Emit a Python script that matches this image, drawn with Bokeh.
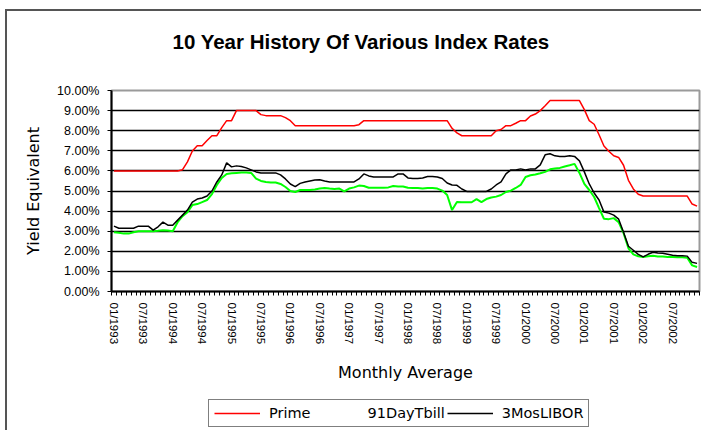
import math
from bokeh.plotting import figure
from bokeh.layouts import column
from bokeh.models import FixedTicker, Legend, LegendItem, ColumnDataSource, Label
from bokeh.embed import file_html
from bokeh.resources import INLINE

# ---------------- data (monthly averages, %) ----------------
months = [f"{m:02d}/{y}" for y in range(1993, 2003) for m in range(1, 13)]

prime = [
    6.00, 6.00, 6.00, 6.00, 6.00, 6.00, 6.00, 6.00, 6.00, 6.00, 6.00, 6.00,   # 1993
    6.00, 6.00, 6.06, 6.45, 6.99, 7.25, 7.25, 7.51, 7.75, 7.75, 8.15, 8.50,   # 1994
    8.50, 9.00, 9.00, 9.00, 9.00, 9.00, 8.80, 8.75, 8.75, 8.75, 8.75, 8.65,   # 1995
    8.50, 8.25, 8.25, 8.25, 8.25, 8.25, 8.25, 8.25, 8.25, 8.25, 8.25, 8.25,   # 1996
    8.25, 8.25, 8.30, 8.50, 8.50, 8.50, 8.50, 8.50, 8.50, 8.50, 8.50, 8.50,   # 1997
    8.50, 8.50, 8.50, 8.50, 8.50, 8.50, 8.50, 8.50, 8.50, 8.12, 7.89, 7.75,   # 1998
    7.75, 7.75, 7.75, 7.75, 7.75, 7.75, 8.00, 8.06, 8.25, 8.25, 8.37, 8.50,   # 1999
    8.50, 8.73, 8.83, 9.00, 9.24, 9.50, 9.50, 9.50, 9.50, 9.50, 9.50, 9.50,   # 2000
    9.05, 8.50, 8.32, 7.80, 7.24, 6.98, 6.75, 6.67, 6.28, 5.53, 5.10, 4.84,   # 2001
    4.75, 4.75, 4.75, 4.75, 4.75, 4.75, 4.75, 4.75, 4.75, 4.75, 4.35, 4.25,   # 2002
]

tbill = [
    2.95, 2.92, 2.88, 2.88, 2.95, 3.00, 3.00, 3.00, 3.00, 3.02, 3.05, 3.03,   # 1993
    3.00, 3.45, 3.75, 3.95, 4.30, 4.35, 4.45, 4.55, 4.85, 5.30, 5.65, 5.85,   # 1994
    5.88, 5.90, 5.92, 5.92, 5.90, 5.62, 5.50, 5.45, 5.42, 5.42, 5.35, 5.20,   # 1995
    5.00, 4.95, 5.05, 5.05, 5.05, 5.08, 5.12, 5.15, 5.12, 5.10, 5.12, 4.98,   # 1996
    5.12, 5.18, 5.27, 5.25, 5.16, 5.16, 5.16, 5.16, 5.18, 5.25, 5.22, 5.22,   # 1997
    5.16, 5.15, 5.15, 5.12, 5.15, 5.15, 5.12, 5.02, 4.80, 4.05, 4.45, 4.44,   # 1998
    4.44, 4.44, 4.60, 4.45, 4.60, 4.68, 4.72, 4.80, 4.95, 5.02, 5.15, 5.30,   # 1999
    5.70, 5.78, 5.82, 5.88, 5.95, 6.08, 6.12, 6.15, 6.22, 6.28, 6.35, 5.90,   # 2000
    5.35, 5.05, 4.70, 4.15, 3.62, 3.60, 3.65, 3.45, 2.90, 2.15, 1.85, 1.75,   # 2001
    1.72, 1.75, 1.78, 1.74, 1.74, 1.72, 1.72, 1.70, 1.70, 1.68, 1.30, 1.22,   # 2002
]

libor = [
    3.25, 3.15, 3.15, 3.15, 3.15, 3.25, 3.25, 3.25, 3.05, 3.22, 3.45, 3.30,   # 1993
    3.30, 3.55, 3.80, 4.05, 4.45, 4.60, 4.65, 4.75, 5.00, 5.45, 5.80, 6.40,   # 1994
    6.20, 6.25, 6.22, 6.15, 6.05, 5.95, 5.90, 5.90, 5.90, 5.90, 5.80, 5.60,   # 1995
    5.35, 5.22, 5.38, 5.45, 5.50, 5.55, 5.56, 5.50, 5.45, 5.45, 5.45, 5.45,   # 1996
    5.45, 5.45, 5.60, 5.85, 5.75, 5.70, 5.70, 5.70, 5.70, 5.70, 5.85, 5.85,   # 1997
    5.65, 5.62, 5.62, 5.65, 5.72, 5.72, 5.70, 5.62, 5.40, 5.30, 5.28, 5.10,   # 1998
    4.98, 4.98, 4.98, 4.98, 4.98, 5.10, 5.30, 5.45, 5.85, 6.05, 6.05, 6.10,   # 1999
    6.05, 6.10, 6.10, 6.30, 6.80, 6.85, 6.75, 6.72, 6.72, 6.75, 6.72, 6.50,   # 2000
    5.95, 5.35, 4.90, 4.55, 3.95, 3.90, 3.80, 3.60, 2.95, 2.25, 2.05, 1.85,   # 2001
    1.72, 1.85, 1.95, 1.92, 1.90, 1.85, 1.80, 1.78, 1.78, 1.76, 1.45, 1.40,   # 2002
]

series_names = ["Prime", "91DayTbill", "3MosLIBOR"]
x_tick_labels = months[::6]
y_tick_values = list(range(0, 11))
y_tick_labels = [f"{v:.2f}%" for v in y_tick_values]

title_text = "10 Year History Of Various Index Rates"
x_title = "Monthly Average"
y_title = "Yield Equivalent"

W = 694
H_TITLE = 60
H_MAIN = 323
H_LEG = 36


def strip(height):
    f = figure(width=W, height=height, output_backend="svg", toolbar_location=None,
               x_range=(0, 1), y_range=(0, 1), min_border=0,
               x_axis_location=None, y_axis_location=None)
    f.outline_line_color = None
    f.xgrid.visible = False
    f.ygrid.visible = False
    return f


# ---------------- title strip ----------------
pt = strip(H_TITLE)
pt.add_layout(Label(x=61, y=30, x_units="screen", y_units="screen", text=title_text,
                    text_font="Liberation Sans", text_font_style="bold",
                    text_font_size="20.5px", text_color="#000000",
                    text_align="left", text_baseline="alphabetic"))

# ---------------- main chart ----------------
idx = list(range(len(months)))
src = ColumnDataSource(dict(x=idx, month=months, prime=prime, tbill=tbill, libor=libor))

p = figure(width=W, height=H_MAIN, output_backend="svg", toolbar_location=None,
           x_range=(-0.5, len(months) - 0.5), y_range=(0, 10),
           min_border_left=104, min_border_right=2, min_border_top=19,
           min_border_bottom=H_MAIN - 19 - 201)

p.outline_line_color = "#9a9a9a"
p.outline_line_width = 2

p.xgrid.grid_line_color = None
p.ygrid.grid_line_color = "#000000"
p.ygrid.grid_line_width = 1.5
p.ygrid.ticker = FixedTicker(ticks=y_tick_values)

xa = p.xaxis[0]
xa.ticker = FixedTicker(ticks=idx[::6], minor_ticks=[i - 0.5 for i in range(len(months) + 1)])
xa.major_label_overrides = {i: lab for i, lab in zip(idx[::6], x_tick_labels)}
xa.major_label_orientation = -math.pi / 2
xa.major_tick_line_color = None
xa.major_tick_out = 4
xa.minor_tick_out = 4
xa.minor_tick_in = 0
xa.minor_tick_line_color = "#000000"
xa.minor_tick_line_width = 1
xa.axis_line_color = "#000000"
xa.axis_line_width = 2
xa.major_label_text_font = "Liberation Sans"
xa.major_label_text_font_size = "11.5px"
xa.major_label_text_color = "#000000"
xa.major_label_standoff = 7
xa.axis_label = x_title
xa.axis_label_text_font = "DejaVu Sans"
xa.axis_label_text_font_size = "16px"
xa.axis_label_text_font_style = "normal"
xa.axis_label_text_color = "#000000"
xa.axis_label_standoff = 16

ya = p.yaxis[0]
ya.ticker = FixedTicker(ticks=y_tick_values)
ya.major_label_overrides = {v: lab for v, lab in zip(y_tick_values, y_tick_labels)}
ya.major_tick_out = 4
ya.major_tick_in = 0
ya.major_tick_line_color = "#000000"
ya.minor_tick_line_color = None
ya.axis_line_color = "#000000"
ya.axis_line_width = 2
ya.major_label_text_font = "Liberation Sans"
ya.major_label_text_font_size = "12.5px"
ya.major_label_text_color = "#000000"
ya.major_label_standoff = 8
ya.axis_label = y_title
ya.axis_label_text_font = "DejaVu Sans"
ya.axis_label_text_font_size = "16px"
ya.axis_label_text_font_style = "normal"
ya.axis_label_text_color = "#000000"
ya.axis_label_standoff = 11

p.line("x", "prime", source=src, line_color="#ff0000", line_width=1.5)
p.line("x", "tbill", source=src, line_color="#00ff00", line_width=2)
p.line("x", "libor", source=src, line_color="#000000", line_width=1.5)

# ---------------- legend strip ----------------
pl = strip(H_LEG)
off = dict(x=[0, 1], y=[-5, -5])  # key samples only, kept outside the strip's range
k_prime = pl.line(line_color="#ff0000", line_width=1.5, **off)
# the T-bill key sample is not visible in the original legend
k_tbill = pl.line(line_color="#00ff00", line_alpha=0, **off)
k_libor = pl.line(line_color="#000000", line_width=1.5, **off)

legend = Legend(items=[
    LegendItem(label=series_names[0], renderers=[k_prime]),
    LegendItem(label=series_names[1], renderers=[k_tbill]),
    LegendItem(label=series_names[2], renderers=[k_libor]),
], orientation="horizontal", location=(97, 3))
legend.border_line_color = "#000000"
legend.border_line_width = 1
legend.background_fill_color = "#ffffff"
legend.label_text_font = "DejaVu Sans"
legend.label_text_font_size = "14.5px"
legend.label_text_color = "#000000"
legend.glyph_width = 46
legend.glyph_height = 14
legend.label_standoff = 9
legend.spacing = 2
legend.padding = 5
legend.margin = 0
pl.add_layout(legend, "center")

layout = column(pt, p, pl, spacing=0,
                styles={"margin-left": "5px", "margin-top": "9px",
                        "border-top": "2px solid #555555",
                        "border-left": "2px solid #555555"})

open("out.html", "w").write(file_html(layout, INLINE))
